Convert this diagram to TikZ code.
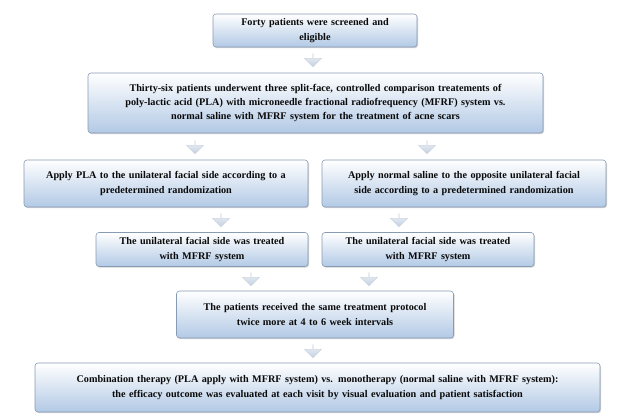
\documentclass[tikz,border=0pt]{standalone}
\usepackage{fontspec}
\setmainfont{Liberation Serif}
\usetikzlibrary{shapes.arrows,shadows}
\definecolor{boxline}{RGB}{135,155,180}
\definecolor{boxbot}{RGB}{178,201,229}
\definecolor{arrtop}{RGB}{238,241,246}
\definecolor{arrbot}{RGB}{196,209,226}
\definecolor{arrline}{RGB}{205,212,222}
\definecolor{txt}{RGB}{10,10,10}
\tikzset{
  flowbox/.style={draw=boxline, line width=0.6pt, rounded corners=3pt,
    top color=white, bottom color=boxbot, align=center, text=txt,
    font=\fontsize{10.2}{14.2}\selectfont\bfseries, inner xsep=4pt, inner ysep=0pt,
    drop shadow={shadow xshift=1pt, shadow yshift=-1.2pt, opacity=0.35, fill=gray}},
  downarrow/.style={single arrow, shape border rotate=270, draw=arrline, line width=0.4pt,
    top color=arrtop, bottom color=arrbot, minimum height=13pt, minimum width=17pt,
    single arrow head extend=3.5pt, inner sep=0pt}
}
\begin{document}
\begin{tikzpicture}[x=1pt,y=-1pt]
\useasboundingbox (0,0) rectangle (630,418);
\node[flowbox, text width=196pt, minimum height=33pt] (b1) at (315,30.5)
  {Forty patients were screened and\\eligible};
\node[flowbox, text width=447pt, minimum height=60pt] (b2) at (315.5,103)
  {Thirty-six patients underwent three split-face, controlled comparison treatements of\\
   poly-lactic acid (PLA) with microneedle fractional radiofrequency (MFRF) system vs.\\
   normal saline with MFRF system for the treatment of acne scars};
\node[flowbox, text width=276pt, minimum height=47pt] (b3l) at (166,183.5)
  {Apply PLA to the unilateral facial side according to a\\predetermined randomization};
\node[flowbox, text width=276pt, minimum height=47pt] (b3r) at (464,183.5)
  {Apply normal saline to the opposite unilateral facial\\side according to a predetermined randomization};
\node[flowbox, text width=204pt, minimum height=34pt] (b4l) at (202,249.5)
  {The unilateral facial side was treated\\with MFRF system};
\node[flowbox, text width=204pt, minimum height=34pt] (b4r) at (428,249.5)
  {The unilateral facial side was treated\\with MFRF system};
\node[flowbox, text width=269pt, minimum height=47pt] (b5) at (315,314.5)
  {The patients received the same treatment protocol\\twice more at 4 to 6 week intervals};
\node[flowbox, text width=557pt, minimum height=49pt] (b6) at (317.5,387.5)
  {Combination therapy (PLA apply with MFRF system) vs. monotherapy (normal saline with MFRF system):\\
   the efficacy outcome was evaluated at each visit by visual evaluation and patient satisfaction};
\node[downarrow] (a1) at (313,60) {};
\node[downarrow] (a2l) at (195,147) {};
\node[downarrow] (a2r) at (427,147) {};
\node[downarrow] (a3l) at (221,220) {};
\node[downarrow] (a3r) at (399,220) {};
\node[downarrow] (a4l) at (251,279) {};
\node[downarrow] (a4r) at (369,279) {};
\node[downarrow] (a5) at (313,351) {};
\end{tikzpicture}
\end{document}
